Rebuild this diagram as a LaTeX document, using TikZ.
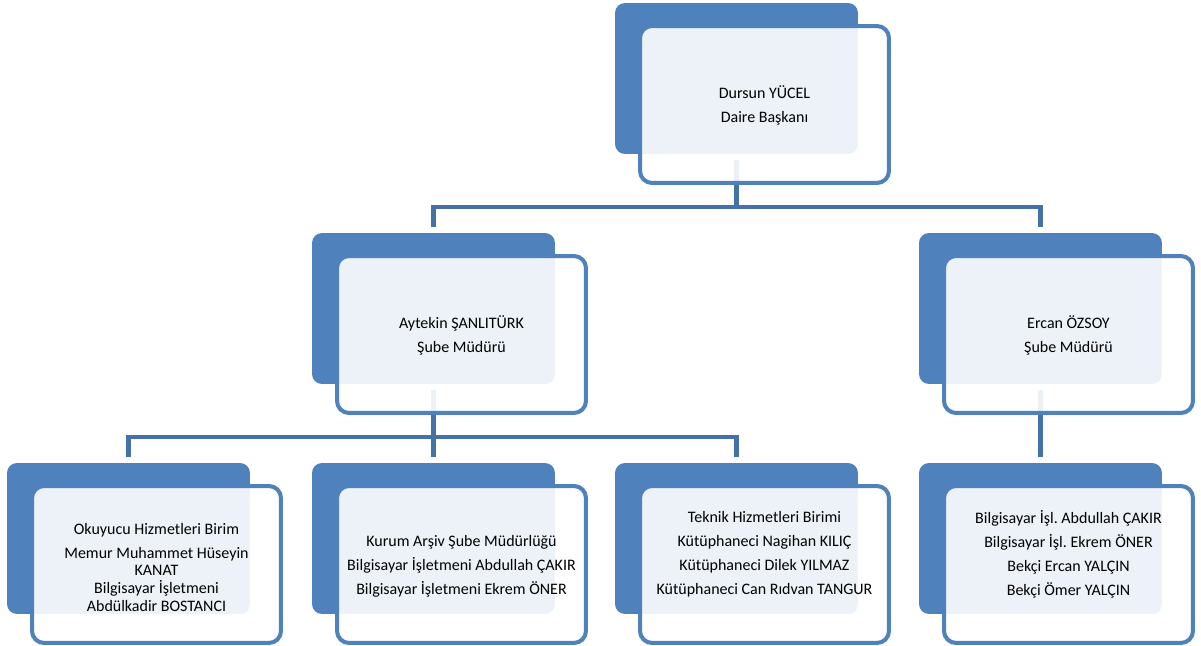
\documentclass[tikz,border=0pt]{standalone}
\usepackage{fontspec}
\setmainfont{Carlito}
\definecolor{boxblue}{RGB}{79,129,189}
\definecolor{linkblue}{RGB}{68,114,166}

\begin{document}
\begin{tikzpicture}[x = 0.02cm, y = -0.02cm,
  backbox/.style = {rectangle, rounded corners = 0.2cm, fill = boxblue, minimum width = 4.86cm, minimum height = 3.02cm, inner sep = 0pt},
  frontbox/.style = {rectangle, rounded corners = 0.24cm, draw = boxblue, line width = 0.08cm, fill = white, fill opacity = 0.9, minimum width = 4.98cm, minimum height = 3.14cm, inner sep = 0pt},
  txt/.style = {align = center, font = \fontsize{9.1pt}{10pt}\selectfont\frenchspacing, text = black, inner sep = 0pt},
  conn/.style = {draw = linkblue, line width = 0.09cm}]
\useasboundingbox (0,0) rectangle (1201,646);
\foreach \i/\x/\y in {0/736.5/78.5, 1/433.5/308.5, 2/1040.5/308.5, 3/128.5/538.5, 4/433.5/538.5, 5/736.5/538.5, 6/1040.5/538.5}
\node [backbox] (d\i) at (\x,\y) {};
\coordinate (bus0) at (736.5,207);
\coordinate (bus1) at (433.5,437);
\draw [conn] ([yshift = -0.12cm]d0.south) -- (bus0);
\draw [conn] ([yshift = 0.12cm]d1.north) |- (bus0) -| ([yshift = 0.12cm]d2.north);
\draw [conn] ([yshift = -0.12cm]d1.south) -- (bus1);
\draw [conn] ([yshift = 0.12cm]d3.north) |- (bus1) -| ([yshift = 0.12cm]d5.north);
\draw [conn] (bus1) -- ([yshift = 0.12cm]d4.north);
\draw [conn] ([yshift = -0.12cm]d2.south) -- ([yshift = 0.12cm]d6.north);
\foreach \i in {0,...,6}
\node [frontbox] (f\i) at ([xshift = 0.56cm, yshift = -0.52cm]d\i.center) {};
\node [txt] (t0) at ([yshift = -0.02cm]f0.center) {Dursun YÜCEL\\[3.6pt] Daire Başkanı};
\node [txt] (t1) at ([yshift = -0.02cm]f1.center) {Aytekin ŞANLITÜRK\\[3.6pt] Şube Müdürü};
\node [txt] (t2) at ([yshift = -0.02cm]f2.center) {Ercan ÖZSOY\\[3.6pt] Şube Müdürü};
\node [txt] (t3) at ([yshift = -0.06cm]f3.center) {Okuyucu Hizmetleri Birim\\[3.4pt] Memur Muhammet Hüseyin\\ KANAT\\ Bilgisayar İşletmeni\\ Abdülkadir BOSTANCI};
\node [txt] (t4) at ([yshift = -0.04cm]f4.center) {Kurum Arşiv Şube Müdürlüğü\\[3.6pt] Bilgisayar İşletmeni Abdullah ÇAKIR\\[3.6pt] Bilgisayar İşletmeni Ekrem ÖNER};
\node [txt] (t5) at ([yshift = 0.2cm]f5.center) {Teknik Hizmetleri Birimi\\[3.6pt] Kütüphaneci Nagihan KILIÇ\\[3.6pt] Kütüphaneci Dilek YILMAZ\\[3.6pt] Kütüphaneci Can Rıdvan TANGUR};
\node [txt] (t6) at ([yshift = 0.2cm]f6.center) {Bilgisayar İşl. Abdullah ÇAKIR\\[3.6pt] Bilgisayar İşl. Ekrem ÖNER\\[3.6pt] Bekçi Ercan YALÇIN\\[3.6pt] Bekçi Ömer YALÇIN};
\end{tikzpicture}
\end{document}
